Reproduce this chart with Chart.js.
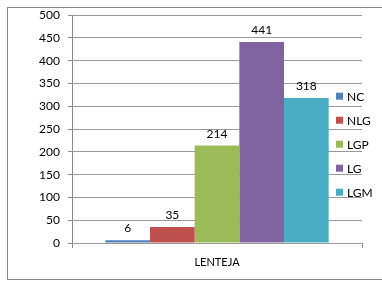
<!DOCTYPE html>
<html>
<head>
<meta charset="utf-8">
<script src="https://cdn.jsdelivr.net/npm/chart.js@4/dist/chart.umd.min.js"></script>
<style>
html,body{margin:0;padding:0;background:#fff;}
#wrap{width:382px;height:281px;position:relative;}
</style>
</head>
<body>
<div id="wrap"><canvas id="c" width="382" height="281"></canvas></div>
<script>
const categories = ["LENTEJA"];
const seriesNames = ["NC", "NLG", "LGP", "LG", "LGM"];
const seriesValues = [[6], [35], [214], [441], [318]];
const seriesColors = ["#4F81BD", "#C0504D", "#9BBB59", "#8064A2", "#4BACC6"];
const yTicks = [0, 50, 100, 150, 200, 250, 300, 350, 400, 450, 500];

const FONT = "Lato, 'DejaVu Sans', sans-serif";

const borderPlugin = {
  id: 'outerBorder',
  beforeDraw(chart) {
    const ctx = chart.ctx;
    ctx.save();
    ctx.fillStyle = '#fff';
    ctx.fillRect(0, 0, chart.width, chart.height);
    ctx.strokeStyle = '#8a8a8a';
    ctx.lineWidth = 1;
    ctx.strokeRect(7.5, 7.5, 420, 272);
    ctx.restore();
  }
};

const labelPlugin = {
  id: 'valueLabels',
  afterDatasetsDraw(chart) {
    const ctx = chart.ctx;
    ctx.save();
    ctx.font = "12px " + FONT;
    ctx.fillStyle = '#000';
    ctx.textAlign = 'center';
    ctx.textBaseline = 'alphabetic';
    chart.data.datasets.forEach((ds, i) => {
      const meta = chart.getDatasetMeta(i);
      meta.data.forEach((bar, j) => {
        ctx.fillText(String(ds.data[j]), bar.x, bar.y - 8);
      });
    });
    ctx.restore();
  }
};

const legendPlugin = {
  id: 'customLegend',
  afterDraw(chart) {
    const ctx = chart.ctx;
    const a = chart.chartArea;
    ctx.save();
    ctx.font = "12px " + FONT;
    ctx.textBaseline = 'middle';
    ctx.textAlign = 'left';
    const x0 = a.right - 26;
    let y = a.top + 81;
    chart.data.datasets.forEach((ds) => {
      ctx.fillStyle = ds.backgroundColor;
      ctx.fillRect(x0, y - 3.5, 7, 7);
      ctx.fillStyle = '#000';
      ctx.fillText(ds.label, x0 + 11, y + 0.5);
      y += 24;
    });
    ctx.restore();
  }
};

new Chart(document.getElementById('c'), {
  type: 'bar',
  data: {
    labels: categories,
    datasets: seriesNames.map((n, i) => ({
      label: n,
      data: seriesValues[i],
      backgroundColor: seriesColors[i],
      borderWidth: 0
    }))
  },
  options: {
    responsive: false,
    animation: false,
    devicePixelRatio: 1,
    layout: { padding: { left: 0, right: 20, top: 10, bottom: 0 } },
    datasets: { bar: { categoryPercentage: 0.77, barPercentage: 1.0 } },
    plugins: { legend: { display: false }, tooltip: { enabled: false } },
    scales: {
      x: {
        offset: true,
        grid: { display: true, offset: true, drawOnChartArea: false, drawTicks: true, tickLength: 5, color: '#8a8a8a' },
        border: { display: false },
        ticks: { font: { family: FONT, size: 11 }, color: '#000', padding: 8 },
        afterFit(s) { s.height = 38; }
      },
      y: {
        min: 0, max: 500,
        afterBuildTicks(s) { s.ticks = yTicks.map(v => ({ value: v })); },
        grid: { color: '#9a9a9a', lineWidth: 1, drawTicks: true, tickLength: 4, tickColor: '#8a8a8a' },
        border: { display: true, color: '#8a8a8a' },
        ticks: { font: { family: FONT, size: 12 }, color: '#000', padding: 8 },
        afterFit(s) { s.width = 72; }
      }
    }
  },
  plugins: [borderPlugin, labelPlugin, legendPlugin]
});
</script>
</body>
</html>
